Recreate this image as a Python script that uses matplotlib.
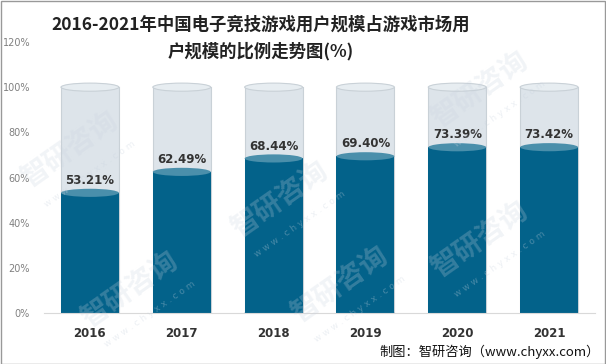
import matplotlib.pyplot as plt
from matplotlib.patches import Rectangle, Ellipse

plt.rcParams['font.family'] = ['Noto Sans CJK SC', 'DejaVu Sans']

years = ['2016', '2017', '2018', '2019', '2020', '2021']
share = [53.21, 62.49, 68.44, 69.40, 73.39, 73.42]
full = 100
yticks = [0, 20, 40, 60, 80, 100, 120]

W, H = 606, 364
fig = plt.figure(figsize=(W / 100, H / 100), dpi=100)
ax = fig.add_axes([44 / W, (H - 313) / H, (595 - 44) / W, (313 - 42) / H])

bw = 0.63
eh = 3.6
dark = '#03628a'
dark_top = '#4a8fab'
bg = '#dde4ea'
bg_edge = '#c9d1d7'

for i, v in enumerate(share):
    x0 = i - bw / 2
    # background cylinder up to 100%
    ax.add_patch(Rectangle((x0, 0), bw, full, facecolor=bg, edgecolor='none', zorder=1))
    ax.plot([x0, x0], [0, full], color=bg_edge, lw=0.8, zorder=1.1)
    ax.plot([x0 + bw, x0 + bw], [0, full], color=bg_edge, lw=0.8, zorder=1.1)
    ax.add_patch(Ellipse((i, full), bw, eh, facecolor='#e7edf1', edgecolor=bg_edge, lw=0.8, zorder=1.2))
    # filled cylinder
    ax.add_patch(Ellipse((i, 0), bw, eh, facecolor=dark, edgecolor='none', zorder=2))
    ax.add_patch(Rectangle((x0, 0), bw, v, facecolor=dark, edgecolor='none', zorder=2))
    ax.add_patch(Ellipse((i, v), bw, eh, facecolor=dark_top, edgecolor='none', zorder=2.1))
    ax.text(i, v + 5.5, f'{v:.2f}%', ha='center', va='center', fontsize=8.5,
            fontweight='bold', color='#333333', family=['DejaVu Sans'], zorder=3)

ax.set_xlim(-0.5, len(years) - 0.5)
ax.set_ylim(0, 120)
ax.set_xticks(range(len(years)))
ax.set_xticklabels(years, fontsize=8.5, fontweight='bold', color='#333333', family=['DejaVu Sans'])
ax.set_yticks(yticks)
ax.set_yticklabels([f'{t}%' for t in yticks], fontsize=7, color='#808080', family=['DejaVu Sans'])
ax.tick_params(axis='x', length=0, pad=10)
ax.tick_params(axis='y', length=0, pad=10)
for s in ['top', 'right', 'left']:
    ax.spines[s].set_visible(False)
ax.spines['bottom'].set_color('#d9d9d9')

fig.text(261 / W, 1 - 25 / H, '2016-2021年中国电子竞技游戏用户规模占游戏市场用',
         ha='center', va='center', fontsize=12.5, fontweight='bold', color='#222222')
fig.text(261 / W, 1 - 51 / H, '户规模的比例走势图(%)',
         ha='center', va='center', fontsize=12.5, fontweight='bold', color='#222222')
fig.text(600 / W, 1 - 352 / H, '制图：智研咨询（www.chyxx.com）',
         ha='right', va='center', fontsize=9.5, color='#111111')

# faint watermarks
for wx, wy in [(70, 150), (130, 290), (280, 200), (340, 285), (480, 90), (480, 240)]:
    fig.text(wx / W, 1 - wy / H, '智研咨询', rotation=35, fontsize=20, fontweight='bold',
             color='#c9d3df', alpha=0.25, ha='center', va='center', zorder=0)
    fig.text((wx + 20) / W, 1 - (wy + 24) / H, 'w w w . c h y x x . c o m', rotation=35, fontsize=6.5,
             color='#c9d3df', alpha=0.35, ha='center', va='center', zorder=0, family=['DejaVu Sans'])

fig.patches.append(Rectangle((0.5 / W, 0.5 / H), 1 - 1.5 / W, 1 - 1.5 / H, transform=fig.transFigure,
                             fill=False, edgecolor='#999999', lw=1))

fig.savefig('out.png', dpi=100)
